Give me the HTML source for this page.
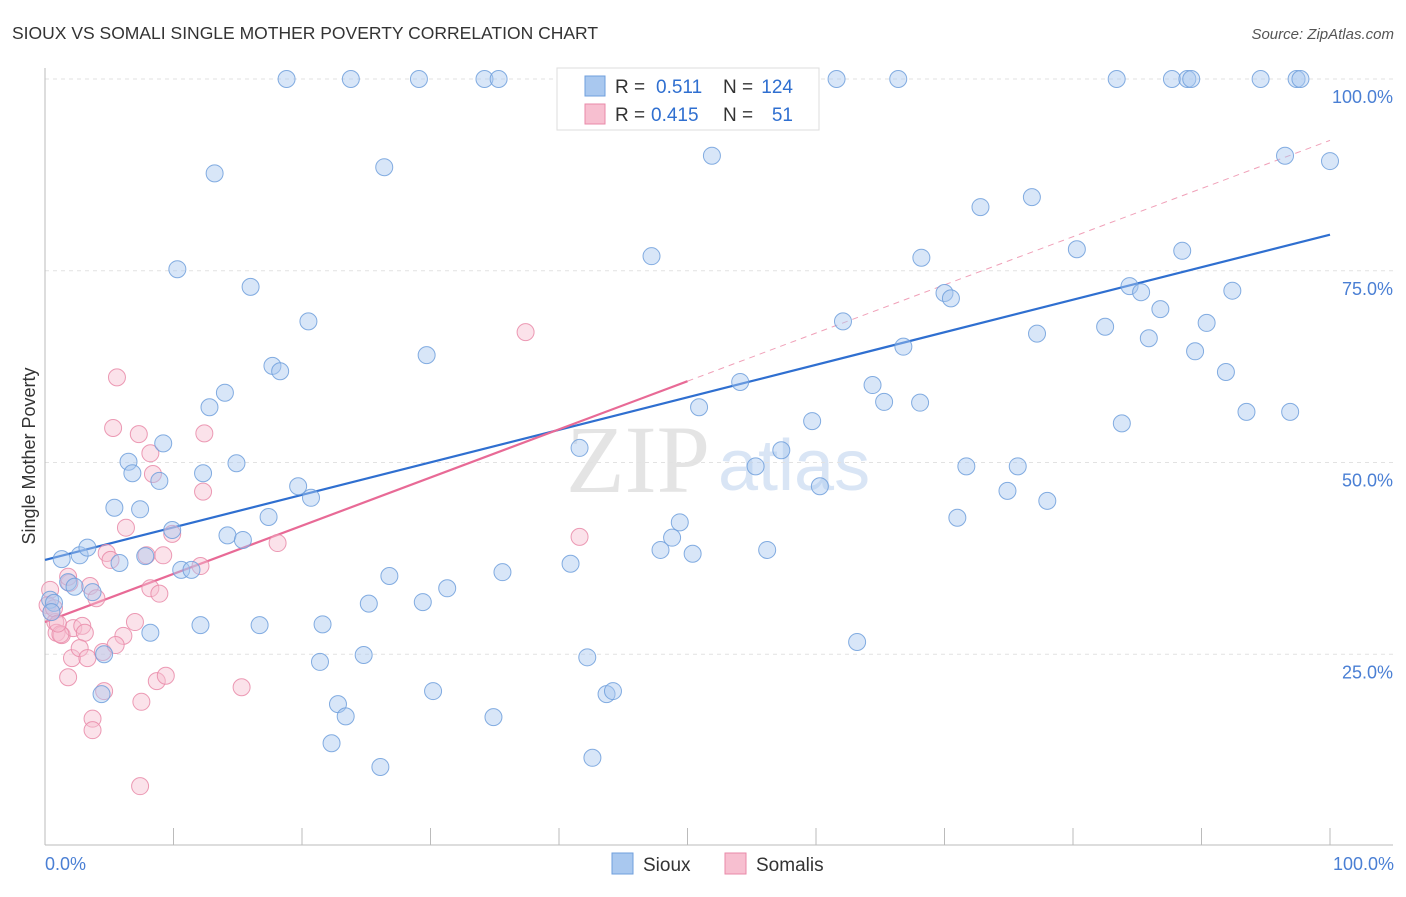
<!DOCTYPE html>
<html><head><meta charset="utf-8"><style>
body{margin:0;background:#fff;font-family:"Liberation Sans",sans-serif;}
svg text{font-family:"Liberation Sans",sans-serif;}
</style></head><body>
<svg id="chart" width="1406" height="892" xmlns="http://www.w3.org/2000/svg">
<text x="12" y="39" font-size="17.5" fill="#333">SIOUX VS SOMALI SINGLE MOTHER POVERTY CORRELATION CHART</text>
<text x="1394" y="39" font-size="15" fill="#555" font-style="italic" text-anchor="end">Source: ZipAtlas.com</text>
<text x="710" y="492" font-size="96" fill="#e4e4e4" text-anchor="end" style="font-family:'Liberation Serif',serif">ZIP</text>
<text x="718" y="490" font-size="72" fill="#d9e5f5">atlas</text>
<g id="grid"></g><g id="axes"></g><g id="trend"></g><g id="pts"></g>
<text x="35" y="456" font-size="18" fill="#333" text-anchor="middle" transform="rotate(-90 35 456)">Single Mother Poverty</text>
<text x="45" y="870" font-size="18" fill="#4a7fd4">0.0%</text>
<text x="1394" y="870" font-size="18" fill="#4a7fd4" text-anchor="end">100.0%</text>
<g>
<rect x="557" y="68" width="262" height="62" fill="#fff" stroke="#ddd"/>
<rect x="585" y="76" width="20" height="20" fill="#a9c8ef" stroke="#6f9fdc"/>
<rect x="585" y="104" width="20" height="20" fill="#f7bfd0" stroke="#e98aa8"/>
<text x="615" y="93" font-size="19" fill="#333">R =</text>
<text x="656" y="93" font-size="19" fill="#2f6fd0">0.511</text>
<text x="723" y="93" font-size="19" fill="#333">N =</text>
<text x="793" y="93" font-size="19" fill="#2f6fd0" text-anchor="end">124</text>
<text x="615" y="121" font-size="19" fill="#333">R =</text>
<text x="651" y="121" font-size="19" fill="#2f6fd0">0.415</text>
<text x="723" y="121" font-size="19" fill="#333">N =</text>
<text x="793" y="121" font-size="19" fill="#2f6fd0" text-anchor="end">51</text>
</g>
<g>
<rect x="612" y="853" width="21" height="21" fill="#a9c8ef" stroke="#6f9fdc"/>
<text x="643" y="871" font-size="19" fill="#333">Sioux</text>
<rect x="725" y="853" width="21" height="21" fill="#f7bfd0" stroke="#e98aa8"/>
<text x="756" y="871" font-size="19" fill="#333">Somalis</text>
</g>
</svg>
<script>
const yTicks=[25,50,75,100];
const yTickLabels=["25.0%","50.0%","75.0%","100.0%"];
const siouxX=[18.8,23.8,29.1,34.2,35.3,43.4,54.3,61.6,66.4,83.4,87.7,88.9,89.2,94.6,97.4,97.7,13.2,26.4,51.9,96.5,100,10.3,16.0,47.2,72.8,76.8,80.3,88.5,68.2,20.5,29.7,17.7,18.3,62.1,70.0,70.5,84.4,85.3,86.8,92.4,77.2,82.5,85.9,90.4,89.5,91.9,66.8,14.0,12.8,54.1,64.4,65.3,68.1,50.9,59.7,83.8,93.5,96.9,9.2,6.5,6.8,8.9,12.3,14.9,41.6,57.3,55.3,60.3,71.7,75.7,74.9,78.0,19.7,20.7,5.4,7.4,9.9,17.4,14.2,15.4,71.0,49.4,48.8,47.9,50.4,56.2,40.9,1.3,2.7,3.3,5.8,7.8,10.6,11.4,1.8,2.3,3.7,26.8,31.3,35.6,0.4,0.7,0.5,8.2,12.1,16.7,21.6,25.2,29.4,4.6,21.4,24.8,42.2,63.2,4.4,22.8,23.4,30.2,34.9,43.7,44.2,22.3,26.1,42.6];
const siouxY=[100,100,100,100,100,100,100,100,100,100,100,100,100,100,100,100,87.7,88.5,90.0,90.0,89.3,75.2,72.9,76.9,83.3,84.6,77.8,77.6,76.7,68.4,64.0,62.6,61.9,68.4,72.1,71.4,73.0,72.2,70.0,72.4,66.8,67.7,66.2,68.2,64.5,61.8,65.1,59.1,57.2,60.5,60.1,57.9,57.8,57.2,55.4,55.1,56.6,56.6,52.5,50.1,48.6,47.6,48.6,49.9,51.9,51.6,49.5,46.9,49.5,49.5,46.3,45.0,46.9,45.4,44.1,43.9,41.2,42.9,40.5,39.9,42.8,42.2,40.2,38.6,38.1,38.6,36.8,37.4,37.9,38.9,36.9,37.8,36.0,36.0,34.4,33.8,33.1,35.2,33.6,35.7,32.1,31.7,30.5,27.8,28.8,28.8,28.9,31.6,31.8,25.0,24.0,24.9,24.6,26.6,19.8,18.5,16.9,20.2,16.8,19.8,20.2,13.4,10.3,11.5];
const somaliX=[0.4,0.2,0.5,0.8,0.9,1.3,1.9,1.8,2.2,2.9,3.1,2.1,2.7,3.3,1.8,3.5,4.0,4.5,4.6,4.8,5.1,6.3,5.6,5.3,7.3,8.2,8.4,9.2,7.9,8.2,8.9,6.1,5.5,7.0,3.7,3.7,7.5,8.7,9.4,7.4,12.4,12.3,12.1,9.9,15.3,18.1,37.4,41.6,0.7,1.2,1.0];
const somaliY=[33.4,31.4,30.5,29.2,27.8,27.5,34.3,35.1,28.4,28.7,27.8,24.5,25.8,24.5,22.0,33.9,32.3,25.3,20.2,38.2,37.3,41.5,61.1,54.5,53.7,51.2,48.5,37.9,37.9,33.6,32.9,27.4,26.2,29.2,16.6,15.1,18.8,21.5,22.2,7.8,53.8,46.2,36.5,40.7,20.7,39.5,67.0,40.3,31.0,27.6,29.0];
const siouxTrend=[37.3,79.7];
const somaliTrend=[29.2,92.0];
const somaliSolidEnd=50;
const NS="http://www.w3.org/2000/svg";
const X0=45,X1=1330,Y0=846,Y100=79;
const sx=v=>X0+(X1-X0)*v/100, sy=v=>Y0-(Y0-Y100)*v/100;
function mk(tag,attrs,parent){const e=document.createElementNS(NS,tag);for(const k in attrs)e.setAttribute(k,attrs[k]);parent.appendChild(e);return e;}
const grid=document.getElementById('grid'),axes=document.getElementById('axes'),trend=document.getElementById('trend'),pts=document.getElementById('pts');
yTicks.forEach((t,i)=>{
 const l=mk('line',{x1:45,x2:1393,y1:sy(t),y2:sy(t),stroke:'#e2e2e2','stroke-dasharray':'4 4'},grid);
 
 
 const tx=mk('text',{x:1393,y:sy(t)+24,'font-size':18,fill:'#4a7fd4','text-anchor':'end'},grid);
 tx.textContent=yTickLabels[i];
 
 
});
const xa=mk('line',{x1:45,x2:1393,y1:845,y2:845,stroke:'#bbb'},axes);


const ya=mk('line',{x1:45,x2:45,y1:68,y2:845,stroke:'#bbb'},axes);


for(let i=0;i<=10;i++){
 const t=mk('line',{x1:sx(i*10),x2:sx(i*10),y1:828,y2:845,stroke:'#bbb'},axes);
 
 
}
function pt(x,y,fill,stroke,name){
 const c=mk('circle',{cx:sx(x),cy:sy(y),r:8.5,fill:fill,'fill-opacity':0.45,stroke:stroke,'stroke-width':1,'stroke-opacity':0.85},pts);
 
 
}
somaliX.forEach((x,i)=>pt(x,somaliY[i],'#f7bfd0','#e98aa8','somali-point'));
siouxX.forEach((x,i)=>pt(x,siouxY[i],'#a9c8ef','#6f9fdc','sioux-point'));
const st=v=>somaliTrend[0]+(somaliTrend[1]-somaliTrend[0])*v/100;
const pd=mk('line',{x1:sx(somaliSolidEnd),y1:sy(st(somaliSolidEnd)),x2:sx(100),y2:sy(st(100)),stroke:'#f0a0b8','stroke-width':1,'stroke-dasharray':'6 5'},trend);


const bl=mk('line',{x1:sx(0),y1:sy(siouxTrend[0]),x2:sx(100),y2:sy(siouxTrend[1]),stroke:'#2f6fd0','stroke-width':2.2},trend);


const pl=mk('line',{x1:sx(0),y1:sy(st(0)),x2:sx(somaliSolidEnd),y2:sy(st(somaliSolidEnd)),stroke:'#e86a96','stroke-width':2.2},trend);


</script>
</body></html>
